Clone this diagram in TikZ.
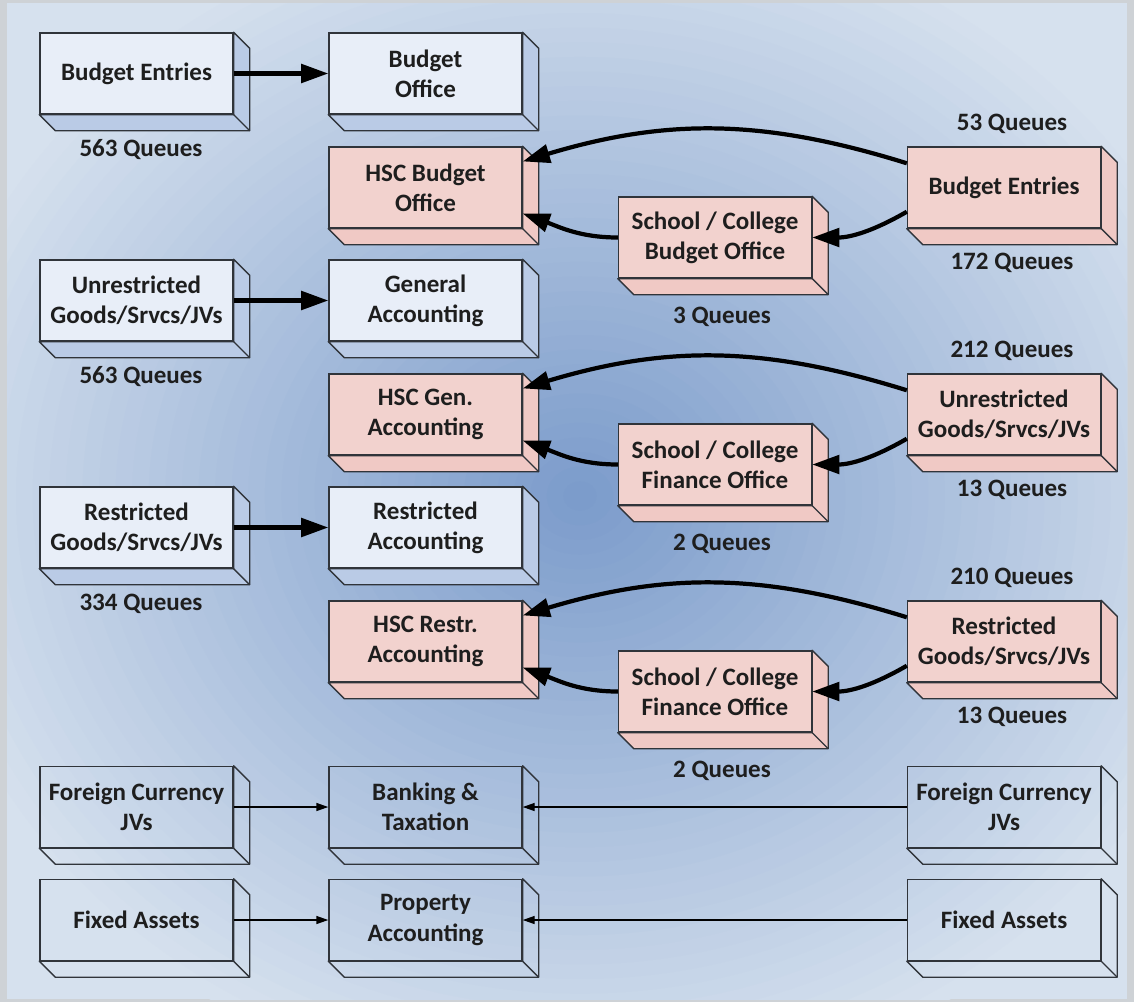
\documentclass[tikz,border=0pt]{standalone}
\usepackage{fontspec}
\setmainfont{Carlito}
\usetikzlibrary{arrows.meta, positioning, calc}
\definecolor{boxline}{RGB}{48,52,58}
\definecolor{txt}{RGB}{30,30,30}
\definecolor{frontblue}{RGB}{232,238,248}
\definecolor{sideblue}{RGB}{186,203,230}
\definecolor{frontpink}{RGB}{242,210,206}
\definecolor{sidepink}{RGB}{240,201,197}
\definecolor{framegray}{RGB}{206,210,214}
\definecolor{bgcenter}{RGB}{124,156,203}
\definecolor{bgedge}{RGB}{214,225,238}

\tikzset{
    qbox/.style={draw=boxline,line width=1pt,minimum width=4.825cm,minimum height=2.025cm,
        align=center,inner sep=2pt,text=txt,font=\fontsize{17.8}{21.5}\selectfont\bfseries},
    bluebox/.style={qbox,fill=frontblue},
    pinkbox/.style={qbox,fill=frontpink},
    plainbox/.style={qbox},
    qlabel/.style={text=txt,font=\fontsize{17.8}{21.5}\selectfont\bfseries},
    bigarrow/.style={-{Triangle[length=0.68cm,width=0.46cm]},line width=3pt},
    thinarrow/.style={-{Triangle[length=0.3cm,width=0.2cm]},line width=1pt},
}

% side and bottom faces of a box
\newcommand{\boxsides}[2]{%
    \filldraw[draw=boxline,line width=1pt,fill=#2,line join=round]
        (#1.north east) -- ++(0.4,-0.4) -- ($(#1.south east)+(0.4,-0.4)$)
        -- ($(#1.south west)+(0.4,-0.4)$) -- (#1.south west) -- (#1.south east) -- cycle;
    \draw[boxline,line width=1pt] (#1.south east) -- ++(0.4,-0.4);
}

\begin{document}
\begin{tikzpicture}
    % Background
    \fill[framegray] (0,0) rectangle (28.35,-25.05);
    \begin{scope}
        \clip (0.175,-0.075) rectangle (28.175,-24.975);
        \fill[bgedge] (0.175,-0.075) rectangle (28.175,-24.975);
        \foreach \i in {0,...,40} {
            \pgfmathsetmacro{\pct}{100*\i/40}
            \pgfmathsetmacro{\s}{1-\i/41}
            \fill[bgcenter!\pct!bgedge] (14.5,-12.4) ellipse ({17*\s} and {15*\s});
        }
    \end{scope}

    % Budget
    \node[bluebox] (budent) at (3.4125,-1.8375) {Budget Entries};
    \node[bluebox] (budoff) at (10.6375,-1.8375) {Budget\\Office};
    \node[pinkbox] (hscbud) at (10.6375,-4.6875) {HSC Budget\\Office};
    \node[pinkbox] (scbud) at (17.875,-5.9375) {School / College\\Budget Office};
    \node[pinkbox] (hscbudent) at (25.1,-4.6875) {Budget Entries};

    % Unrestricted
    \node[bluebox] (unres) at (3.4125,-7.5125) {Unrestricted\\Goods/Srvcs/JVs};
    \node[bluebox] (genacc) at (10.6375,-7.5125) {General\\Accounting};
    \node[pinkbox] (hscgen) at (10.6375,-10.3625) {HSC Gen.\\Accounting};
    \node[pinkbox] (scfin) at (17.875,-11.6125) {School / College\\Finance Office};
    \node[pinkbox] (hscunres) at (25.1,-10.3625) {Unrestricted\\Goods/Srvcs/JVs};

    % Restricted
    \node[bluebox] (res) at (3.4125,-13.1875) {Restricted\\Goods/Srvcs/JVs};
    \node[bluebox] (resacc) at (10.6375,-13.1875) {Restricted\\Accounting};
    \node[pinkbox] (hscres) at (10.6375,-16.0375) {HSC Restr.\\Accounting};
    \node[pinkbox] (scfinr) at (17.875,-17.2875) {School / College\\Finance Office};
    \node[pinkbox] (hscresent) at (25.1,-16.0375) {Restricted\\Goods/Srvcs/JVs};

    % Banking and property
    \node[plainbox] (fcjv) at (3.4125,-20.175) {Foreign Currency\\JVs};
    \node[plainbox] (banktax) at (10.6375,-20.175) {Banking \&\\Taxation};
    \node[plainbox] (hscfcjv) at (25.1,-20.175) {Foreign Currency\\JVs};
    \node[plainbox] (fixed) at (3.4125,-23.0) {Fixed Assets};
    \node[plainbox] (propacc) at (10.6375,-23.0) {Property\\Accounting};
    \node[plainbox] (hscfixed) at (25.1,-23.0) {Fixed Assets};

    % 3D faces
    \foreach \n in {budent,budoff,unres,genacc,res,resacc} {\boxsides{\n}{sideblue}}
    \foreach \n in {hscbud,scbud,hscbudent,hscgen,scfin,hscunres,hscres,scfinr,hscresent} {\boxsides{\n}{sidepink}}
    \foreach \n in {fcjv,banktax,hscfcjv,fixed,propacc,hscfixed} {\boxsides{\n}{none}}

    % Arrows
    \draw[bigarrow] (budent) -- (budoff);
    \draw[bigarrow] (unres) -- (genacc);
    \draw[bigarrow] (res) -- (resacc);

    \draw[bigarrow] (hscbudent.166) to[bend right=17] (hscbud.15);
    \draw[bigarrow] (hscbudent.194) to[out=210,in=0] (scbud.east);
    \draw[bigarrow] (scbud.west) to[out=180,in=-20] (hscbud.-15);

    \draw[bigarrow] (hscunres.166) to[bend right=17] (hscgen.15);
    \draw[bigarrow] (hscunres.194) to[out=210,in=0] (scfin.east);
    \draw[bigarrow] (scfin.west) to[out=180,in=-20] (hscgen.-15);

    \draw[bigarrow] (hscresent.166) to[bend right=17] (hscres.15);
    \draw[bigarrow] (hscresent.194) to[out=210,in=0] (scfinr.east);
    \draw[bigarrow] (scfinr.west) to[out=180,in=-20] (hscres.-15);

    \draw[thinarrow] (fcjv) -- (banktax);
    \draw[thinarrow] (hscfcjv) -- (banktax);
    \draw[thinarrow] (fixed) -- (propacc);
    \draw[thinarrow] (hscfixed) -- (propacc);

    % Queue counts
    \node[qlabel] (qbud) at (3.525,-3.75) {563 Queues};
    \node[qlabel] (qhscbudtop) at (25.3,-3.1) {53 Queues};
    \node[qlabel] (qhscbud) at (25.3,-6.575) {172 Queues};
    \node[qlabel] (qscbud) at (18.05,-7.925) {3 Queues};

    \node[qlabel] (qunres) at (3.525,-9.425) {563 Queues};
    \node[qlabel] (qhscunrestop) at (25.3,-8.775) {212 Queues};
    \node[qlabel] (qhscunres) at (25.3,-12.25) {13 Queues};
    \node[qlabel] (qscfin) at (18.05,-13.6) {2 Queues};

    \node[qlabel] (qres) at (3.525,-15.1) {334 Queues};
    \node[qlabel] (qhscrestop) at (25.3,-14.45) {210 Queues};
    \node[qlabel] (qhscres) at (25.3,-17.925) {13 Queues};
    \node[qlabel] (qscfinr) at (18.05,-19.275) {2 Queues};
\end{tikzpicture}
\end{document}
